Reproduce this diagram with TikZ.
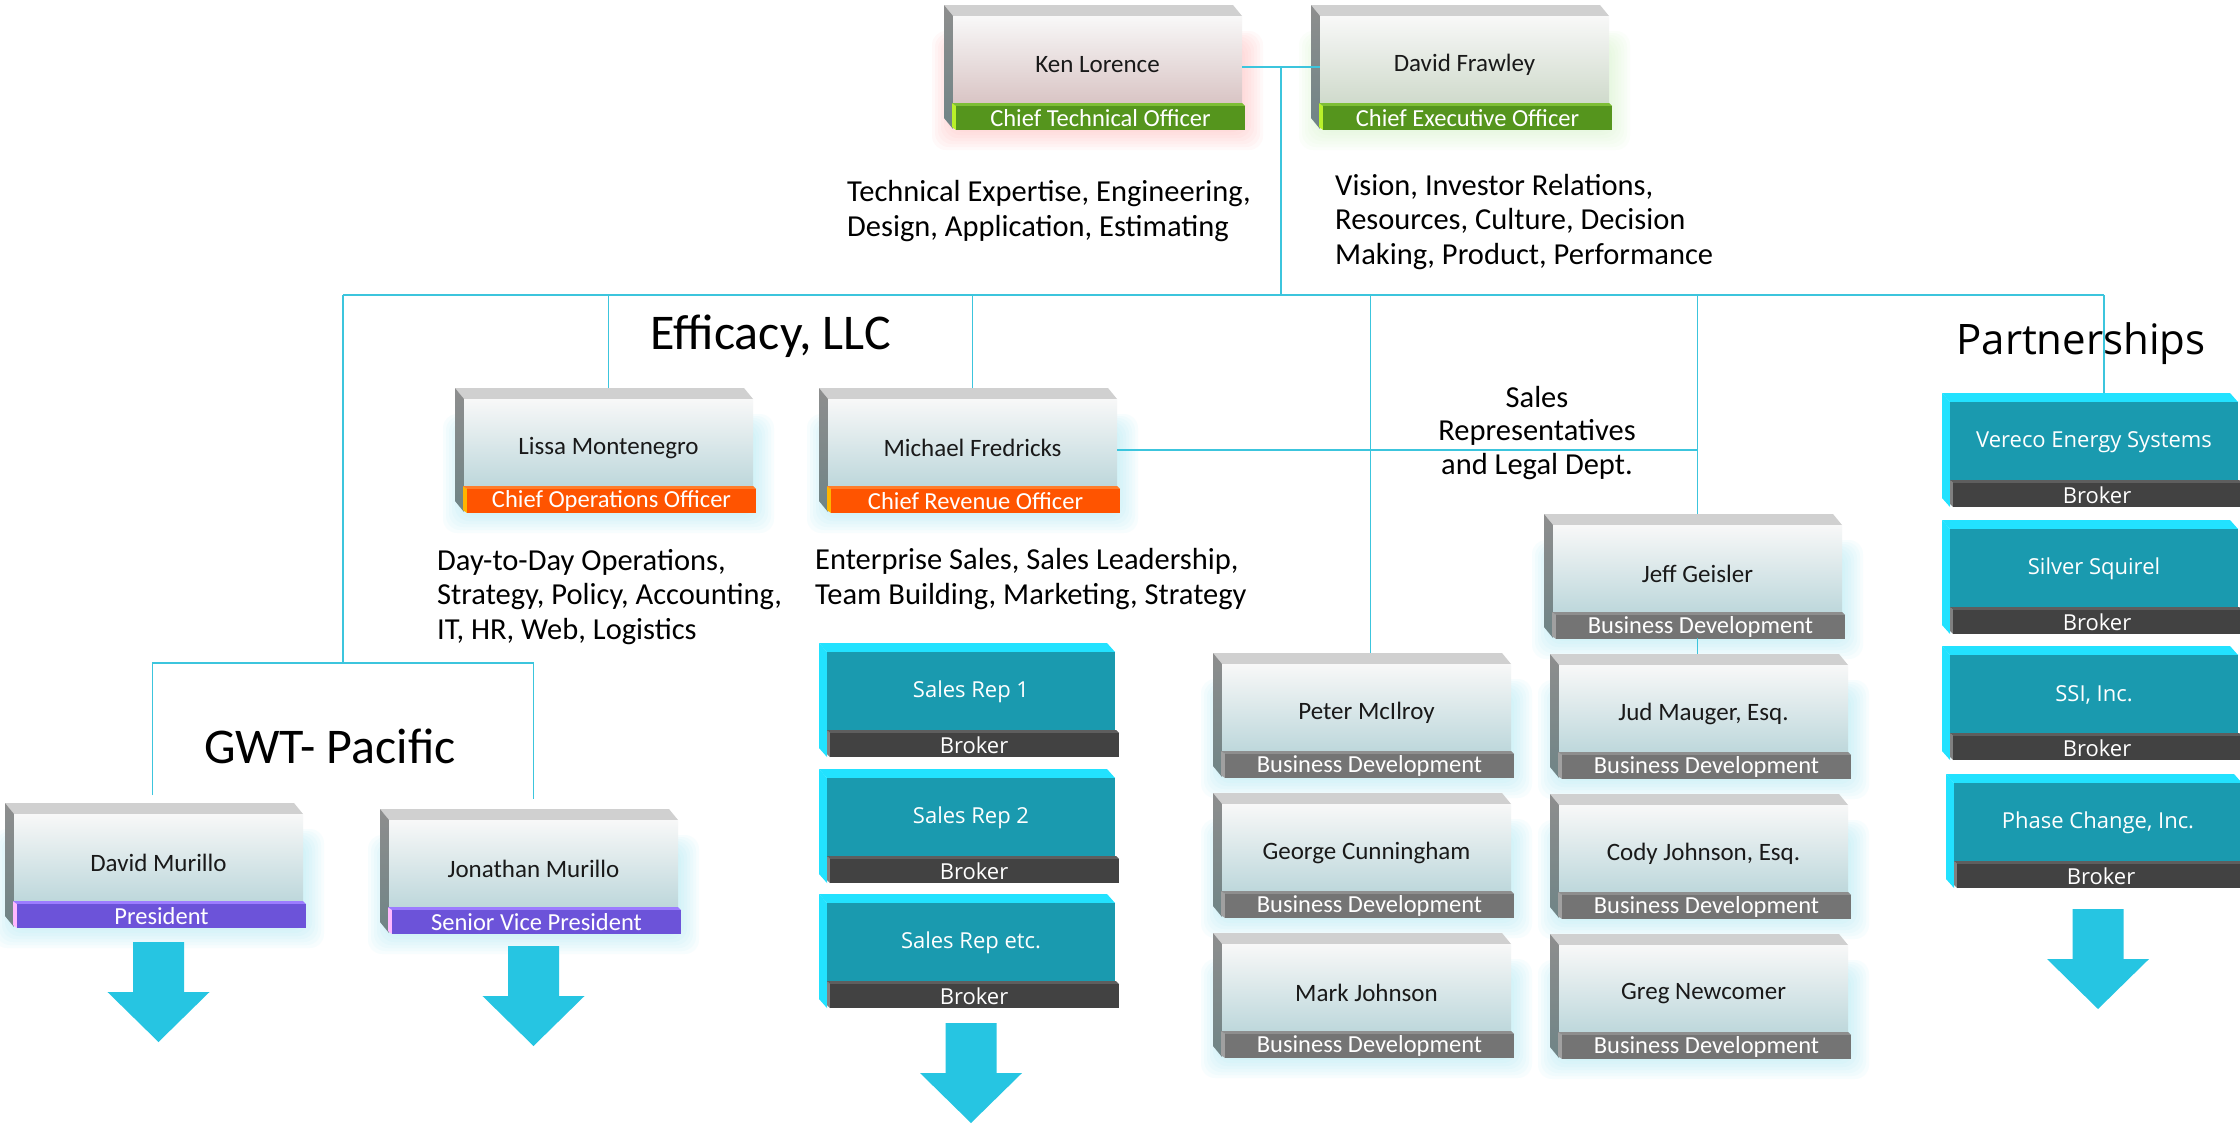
\documentclass[tikz,border=0pt]{standalone}
\usepackage{fontspec}
\setmainfont{Carlito}
\newfontfamily\osans{Open Sans}
\usetikzlibrary{calc}
\pgfdeclarelayer{bg}
\pgfsetlayers{bg,main}
\definecolor{linec}{HTML}{3CC5DD}
\definecolor{topL}{HTML}{D0D0D0}
\definecolor{sideTop}{HTML}{8E8E8E}
\definecolor{sideBot}{HTML}{6F8486}
\definecolor{frontTop}{HTML}{F8F8F8}
\definecolor{frontBot}{HTML}{BDD7DB}
\definecolor{frontRed}{HTML}{D9C4C4}
\definecolor{frontGreen}{HTML}{CFDACB}
\definecolor{greenF}{HTML}{55951D}
\definecolor{greenT}{HTML}{7DBE35}
\definecolor{greenL}{HTML}{B9F02A}
\definecolor{orangeF}{HTML}{FF5400}
\definecolor{orangeT}{HTML}{FF7D2A}
\definecolor{orangeL}{HTML}{FFB400}
\definecolor{purpleF}{HTML}{6C53D9}
\definecolor{purpleT}{HTML}{9C7CFF}
\definecolor{purpleL}{HTML}{FFB8FF}
\definecolor{greyF}{HTML}{747474}
\definecolor{greyT}{HTML}{8E8E8E}
\definecolor{greyL}{HTML}{A0A0A0}
\definecolor{brokF}{HTML}{424242}
\definecolor{brokT}{HTML}{5E5E5E}
\definecolor{brokL}{HTML}{808080}
\definecolor{tealF}{HTML}{1A9AAF}
\definecolor{tealL}{HTML}{22E2FF}
\definecolor{arrowc}{HTML}{26C5E2}
\definecolor{glowC}{HTML}{A0E8F4}
\definecolor{glowR}{HTML}{FFB0B0}
\definecolor{glowG}{HTML}{D0F5C0}
\def\LW{289}
\def\TW{288}
\tikzset{
  boxframe/.style={rectangle,inner sep=0pt,outer sep=0pt,draw=none},
  nametext/.style={font=\fontsize{25}{30}\selectfont,text=black!90,inner sep=0pt},
  bartext/.style={font=\fontsize{24.5}{28}\selectfont,text=white,inner sep=0pt},
  tealtext/.style={font=\osans\fontsize{22}{26}\selectfont,text=white,inner sep=0pt},
  desc/.style={font=\fontsize{30.5}{34.5}\selectfont,align=left,inner sep=0pt,text=black},
  desccenter/.style={font=\fontsize{30.5}{33.5}\selectfont,align=center,inner sep=0pt,text=black},
  title/.style={font=\fontsize{50}{58}\selectfont,inner sep=0pt,text=black},
  ptitle/.style={font=\osans\fontsize{42}{50}\selectfont,inner sep=0pt,text=black},
  conn/.style={draw=linec,line width=1.8pt},
}
% light 3D box: name, fx, ty, text, role, bar colour, glow colour, front bottom colour
\newcommand\lbox[8]{%
  \begin{pgfonlayer}{bg}
    \foreach \g in {1,...,7}{\fill[#7,fill opacity=0.075,rounded corners=14pt] (#2-3*\g,#3+40-2*\g) rectangle (#2+\LW+3*\g,#3+124+3*\g);}
  \end{pgfonlayer}
  \node[boxframe,minimum width=\LW*1pt,minimum height=124pt,anchor=north west] (#1) at (#2,#3) {};
  \fill[topL] (#2-9,#3) -- (#2+\LW-9,#3) -- (#2+\LW,#3+11) -- (#2,#3+11) -- cycle;
  \shade[top color=sideTop,bottom color=sideBot] (#2-9,#3) -- (#2,#3+11) -- (#2,#3+124) -- (#2-9,#3+113) -- cycle;
  \shade[top color=frontTop,bottom color=#8] (#2,#3+11) rectangle (#2+\LW,#3+99);
  \fill[#6L] (#2-1,#3+98) -- (#2+3,#3+101) -- (#2+3,#3+125) -- (#2-1,#3+122) -- cycle;
  \fill[#6T] (#2-1,#3+98) -- (#2+\LW,#3+98) -- (#2+\LW+3,#3+101) -- (#2+3,#3+101) -- cycle;
  \fill[#6F] (#2+3,#3+101) rectangle (#2+\LW+3,#3+125);
  \node[nametext] (#1-name) at (#2+\LW/2,#3+60) {#4};
  \node[bartext] (#1-role) at (#2+3+\LW/2,#3+113) {#5};
}
% teal 3D box: name, fx, ty, text
\newcommand\tbox[4]{%
  \node[boxframe,minimum width=\TW*1pt,minimum height=114pt,anchor=north west] (#1) at (#2,#3) {};
  \fill[tealL] (#2-8,#3) -- (#2+\TW-8,#3) -- (#2+\TW,#3+9) -- (#2,#3+9) -- cycle;
  \fill[tealL] (#2-8,#3) -- (#2,#3+9) -- (#2,#3+114) -- (#2-8,#3+105) -- cycle;
  \fill[tealF] (#2,#3+9) rectangle (#2+\TW,#3+88);
  \fill[brokL] (#2,#3+87) -- (#2+3,#3+90) -- (#2+3,#3+114) -- (#2,#3+111) -- cycle;
  \fill[brokT] (#2,#3+87) -- (#2+\TW+1,#3+87) -- (#2+\TW+4,#3+90) -- (#2+3,#3+90) -- cycle;
  \fill[brokF] (#2+3,#3+90) rectangle (#2+\TW+4,#3+114);
  \node[tealtext] (#1-name) at (#2+\TW/2,#3+49) {#4};
  \node[tealtext] (#1-role) at (#2+3+\TW/2,#3+102) {Broker};
}
% continuation arrow below a node
\newcommand\contarrow[2]{%
  \fill[arrowc] ([shift={(-25.5,#2)}]#1.south) -- ++(51,0) -- ++(0,50) -- ++(25.5,0) -- ++(-51,50) -- ++(-51,-50) -- ++(25.5,0) -- cycle;
}
\begin{document}
\begin{tikzpicture}[x=1pt,y=-1pt]
\begin{pgfonlayer}{bg}
  \fill[white] (0,0) rectangle (2240,1125);
\end{pgfonlayer}
\useasboundingbox (0,0) rectangle (2240,1125);

% top level
\lbox{ken}{953}{5}{Ken Lorence}{Chief Technical Officer}{green}{glowR}{frontRed}
\lbox{david}{1320}{5}{David Frawley}{Chief Executive Officer}{green}{glowG}{frontGreen}

% Efficacy
\lbox{lissa}{464}{388}{Lissa Montenegro}{Chief Operations Officer}{orange}{glowC}{frontBot}
\lbox{michael}{828}{388}{Michael Fredricks}{Chief Revenue Officer}{orange}{glowC}{frontBot}

% business development
\lbox{jeff}{1553}{514}{Jeff Geisler}{Business Development}{grey}{glowC}{frontBot}
\lbox{peter}{1222}{653}{Peter McIlroy}{Business Development}{grey}{glowC}{frontBot}
\lbox{george}{1222}{793}{George Cunningham}{Business Development}{grey}{glowC}{frontBot}
\lbox{mark}{1222}{933}{Mark Johnson}{Business Development}{grey}{glowC}{frontBot}
\lbox{jud}{1559}{654}{Jud Mauger, Esq.}{Business Development}{grey}{glowC}{frontBot}
\lbox{cody}{1559}{794}{Cody Johnson, Esq.}{Business Development}{grey}{glowC}{frontBot}
\lbox{greg}{1559}{934}{Greg Newcomer}{Business Development}{grey}{glowC}{frontBot}

% GWT- Pacific
\lbox{dmur}{14}{803}{David Murillo}{President}{purple}{glowC}{frontBot}
\lbox{jmur}{389}{809}{Jonathan Murillo}{Senior Vice President}{purple}{glowC}{frontBot}

% sales reps
\tbox{rep1}{827}{643}{Sales Rep 1}
\tbox{rep2}{827}{769}{Sales Rep 2}
\tbox{repx}{827}{894}{Sales Rep etc.}

% partnerships
\tbox{vereco}{1950}{393}{Vereco Energy Systems}
\tbox{silver}{1950}{520}{Silver Squirel}
\tbox{ssi}{1950}{646}{SSI, Inc.}
\tbox{phase}{1954}{774}{Phase Change, Inc.}

% arrows
\contarrow{dmur}{15}
\contarrow{jmur}{13}
\contarrow{repx}{15}
\contarrow{phase}{21}

% titles and descriptions
\node[title] (efficacy) at (771,336) {Efficacy, LLC};
\node[title] (gwt) at (330,746) {GWT- Pacific};
\node[ptitle] (partners) at (2081,344) {Partnerships};
\node[desc,anchor=west] (techd) at (847,211) {Technical Expertise, Engineering,\\Design, Application, Estimating};
\node[desc,anchor=west] (visiond) at (1335,222) {Vision, Investor Relations,\\Resources, Culture, Decision\\Making, Product, Performance};
\node[desc,anchor=west] (opsd) at (437,597) {Day-to-Day Operations,\\Strategy, Policy, Accounting,\\IT, HR, Web, Logistics};
\node[desc,anchor=west] (revd) at (815,579) {Enterprise Sales, Sales Leadership,\\Team Building, Marketing, Strategy};
\node[desccenter] (salesd) at (1537,433) {Sales\\Representatives\\and Legal Dept.};

% connectors
\coordinate (busL) at (343,295);
\coordinate (busR) at (2104,295);
\coordinate (gwtj) at (343,663);
\coordinate (kd) at ($(ken.east)!0.5!(david.west)$);
\draw[conn] (ken.east) -- (david.west);
\draw[conn] (kd) -- (kd |- busL);
\draw[conn] (busL) -- (busR);
\draw[conn] (lissa.north) -- (lissa.north |- busL);
\draw[conn] (michael.north) -- (michael.north |- busL);
\draw[conn] ([xshift=4pt]peter.north) -- ([xshift=4pt]peter.north |- busL);
\draw[conn] (jeff.north) -- (jeff.north |- busL);
\draw[conn] (jeff.south) -- (jeff.south |- jud.north);
\draw[conn] (michael.east) -- (michael.east -| jeff.north);
\draw[conn] (busR) -- (busR |- vereco.north);
\draw[conn] (busL) -- (gwtj);
\draw[conn] ([xshift=-6pt,yshift=8pt]dmur.north) |- (gwtj) -| ([yshift=10pt]jmur.north);
\end{tikzpicture}
\end{document}
